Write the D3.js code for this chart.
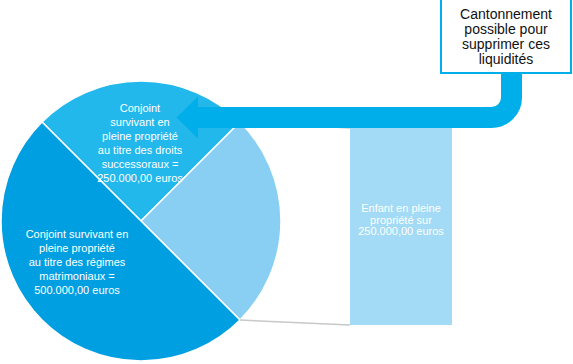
<!DOCTYPE html>
<html>
<head>
<meta charset="utf-8">
<title>pie of bar</title>
<script src="https://cdn.jsdelivr.net/npm/d3@7"></script>
<style>
  body { margin: 0; background: #fff; }
  text { font-family: "Liberation Sans", Arial, sans-serif; }
</style>
</head>
<body>
<script>
var width = 573, height = 364;

// slices, clockwise from the top-left edge
var names = ["successoraux", "enfant", "matrimoniaux"];
var values = [250000, 250000, 500000];
var colors = ["#22b8ec", "#88cff3", "#009fe1"];
var labels = [
  ["Conjoint", "survivant en", "pleine propriété", "au titre des droits", "successoraux =", "250.000,00 euros"],
  [],
  ["Conjoint survivant en", "pleine propriété", "au titre des régimes", "matrimoniaux =", "500.000,00 euros"]
];
var barLabel = ["Enfant en pleine", "propriété sur", "250.000,00 euros"];
var noteLines = ["Cantonnement", "possible pour", "supprimer ces", "liquidités"];

var svg = d3.select("body").append("svg").attr("width", width).attr("height", height);

var cx = 141, cy = 221, r = 140;
var pie = d3.pie().sort(null).startAngle(-Math.PI / 4).endAngle(Math.PI * 7 / 4);
var arcs = pie(values);
var arc = d3.arc().innerRadius(0).outerRadius(r);

var g = svg.append("g").attr("transform", "translate(" + cx + "," + cy + ")");

// bar for the child's share
var barX = 350, barW = 102;
var y = d3.scaleLinear().domain([0, values[1]]).range([325, 128]);

// connector lines from the pale slice to the bar
var a1 = arcs[1];
function pt(a) { return [cx + r * Math.sin(a), cy - r * Math.cos(a)]; }
var pTop = pt(a1.startAngle), pBot = pt(a1.endAngle);
svg.append("line").attr("x1", pTop[0]).attr("y1", pTop[1]).attr("x2", barX).attr("y2", y(values[1]))
  .attr("stroke", "#c8c8c8").attr("stroke-width", 1.5);
svg.append("line").attr("x1", pBot[0]).attr("y1", pBot[1]).attr("x2", barX).attr("y2", y(0))
  .attr("stroke", "#c8c8c8").attr("stroke-width", 1.5);

svg.append("rect")
  .attr("x", barX).attr("y", y(values[1]))
  .attr("width", barW).attr("height", y(0) - y(values[1]))
  .attr("fill", "#a3daf5");

svg.append("text").attr("x", barX + barW / 2).attr("y", 212)
  .attr("text-anchor", "middle").attr("fill", "#fff").attr("font-size", 11)
  .selectAll("tspan").data(barLabel).enter().append("tspan")
  .attr("x", barX + barW / 2).attr("dy", function(d, i) { return i ? 11.7 : 0; })
  .text(function(d) { return d; });

g.selectAll("path").data(arcs).enter().append("path")
  .attr("d", arc)
  .attr("fill", function(d, i) { return colors[i]; })
  .attr("stroke", "#fff").attr("stroke-width", 1.5);

// arrow from the note box into the top slice
var arrowBlue = "#00afe9";
svg.append("path")
  .attr("d", "M196,117.5 H491.5 A20,20 0 0 0 511.5,97.5 V70")
  .attr("fill", "none").attr("stroke", arrowBlue).attr("stroke-width", 21);
svg.append("path")
  .attr("d", "M176.5,117.5 L198,96.5 L198,138.5 Z")
  .attr("fill", arrowBlue);

// slice labels
var labelPos = [[140, 112], null, [77, 238]];
labels.forEach(function(lines, k) {
  if (!lines.length) return;
  svg.append("text").attr("x", labelPos[k][0]).attr("y", labelPos[k][1])
    .attr("text-anchor", "middle").attr("fill", "#fff").attr("font-size", 11)
    .selectAll("tspan").data(lines).enter().append("tspan")
    .attr("x", labelPos[k][0]).attr("dy", function(d, i) { return i ? 14 : 0; })
    .text(function(d) { return d; });
});

// note box
svg.append("rect").attr("x", 441).attr("y", -1).attr("width", 130).attr("height", 74)
  .attr("fill", "#fff").attr("stroke", arrowBlue).attr("stroke-width", 2);
svg.append("text").attr("x", 506).attr("y", 18.5)
  .attr("text-anchor", "middle").attr("fill", "#111").attr("font-size", 14)
  .selectAll("tspan").data(noteLines).enter().append("tspan")
  .attr("x", 506).attr("dy", function(d, i) { return i ? 15 : 0; })
  .text(function(d) { return d; });
</script>
</body>
</html>
